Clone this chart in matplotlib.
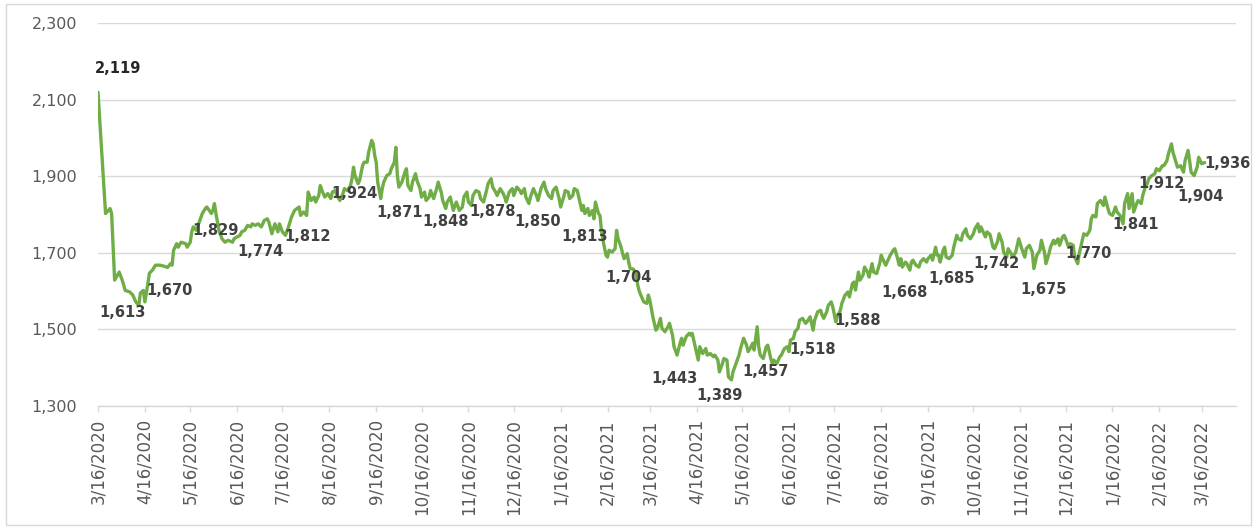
import matplotlib
matplotlib.use('Agg')
import matplotlib.pyplot as plt
import matplotlib.dates as mdates
from matplotlib.ticker import FuncFormatter
from matplotlib.patches import Rectangle
import datetime as dt

# ---------------- data ----------------
start_date = dt.date(2020, 3, 16)

day_offsets = [
    0, 5, 8, 9, 11, 14, 16, 18, 21, 23, 25, 27, 28, 30, 31, 33, 34, 36, 38, 41,
    44, 46, 48, 49, 50, 52, 53, 55, 58, 59, 61, 62, 63, 65, 69, 71, 72, 75, 76, 77,
    78, 80, 82, 84, 86, 89, 90, 92, 94, 95, 97, 99, 101, 102, 104, 106, 108, 110, 112, 113,
    115, 117, 119, 120, 122, 124, 126, 128, 130, 133, 134, 136, 138, 139, 141, 143, 144, 146, 147, 149,
    150, 152, 154, 155, 157, 158, 160, 162, 163, 165, 167, 168, 169, 170, 172, 173, 175, 176, 178, 179,
    181, 182, 183, 184, 185, 187, 188, 189, 191, 193, 194, 196, 197, 198, 199, 201, 203, 204, 205, 207,
    208, 210, 211, 213, 214, 216, 217, 219, 220, 222, 224, 225, 227, 228, 230, 231, 233, 235, 237, 239,
    241, 242, 244, 245, 247, 248, 250, 252, 253, 255, 257, 258, 260, 261, 263, 264, 266, 268, 269, 270,
    272, 274, 275, 277, 279, 280, 282, 283, 285, 286, 288, 290, 291, 293, 295, 296, 298, 300, 301, 303,
    305, 306, 308, 309, 311, 312, 314, 315, 317, 318, 320, 321, 322, 324, 325, 327, 328, 329, 331, 332,
    333, 334, 336, 337, 338, 340, 342, 343, 344, 346, 347, 348, 350, 351, 352, 354, 356, 357, 358, 359,
    361, 363, 364, 365, 367, 369, 370, 372, 373, 375, 377, 378, 380, 381, 383, 385, 386, 387, 389, 391,
    392, 393, 395, 397, 398, 400, 402, 403, 405, 407, 408, 410, 411, 413, 414, 416, 417, 419, 420, 422,
    424, 425, 427, 429, 430, 432, 433, 434, 436, 437, 438, 440, 442, 443, 445, 446, 447, 449, 451, 452,
    454, 456, 457, 458, 460, 461, 463, 464, 466, 468, 469, 471, 472, 473, 474, 476, 478, 479, 480, 482,
    483, 485, 486, 488, 489, 491, 492, 494, 496, 497, 499, 500, 501, 503, 504, 506, 507, 509, 510, 512,
    513, 515, 516, 517, 518, 520, 521, 523, 524, 526, 527, 528, 530, 531, 532, 534, 535, 537, 538, 539,
    541, 543, 544, 546, 548, 549, 551, 552, 554, 555, 556, 557, 559, 560, 561, 563, 565, 566, 568, 569,
    571, 572, 574, 575, 577, 579, 580, 582, 583, 584, 586, 587, 588, 590, 592, 593, 595, 596, 598, 599,
    601, 602, 604, 605, 607, 608, 609, 611, 613, 614, 616, 618, 619, 621, 623, 624, 626, 627, 629, 630,
    632, 633, 635, 636, 638, 639, 640, 642, 643, 645, 646, 648, 649, 651, 652, 654, 656, 657, 658, 660,
    661, 663, 665, 666, 668, 669, 671, 673, 674, 676, 678, 679, 681, 682, 684, 685, 687, 688, 690, 691,
    693, 694, 695, 697, 699, 700, 702, 704, 705, 707, 708, 710, 711, 713, 714, 716, 718, 719, 721, 722,
    723, 725, 727, 728, 730, 732,
]

index_values = [
    2120, 1803, 1816, 1803, 1629, 1650, 1629, 1602, 1598, 1590, 1572, 1563, 1595, 1602, 1572, 1620, 1647, 1655, 1668, 1668,
    1665, 1662, 1672, 1668, 1707, 1724, 1715, 1728, 1724, 1715, 1728, 1755, 1768, 1759, 1803, 1816, 1820, 1803, 1811, 1829,
    1803, 1759, 1737, 1728, 1733, 1728, 1737, 1742, 1746, 1755, 1759, 1772, 1768, 1776, 1772, 1776, 1768, 1785, 1789, 1781,
    1750, 1776, 1755, 1776, 1755, 1746, 1768, 1794, 1811, 1820, 1798, 1807, 1798, 1859, 1837, 1846, 1833, 1850, 1876, 1855,
    1846, 1855, 1842, 1859, 1863, 1850, 1837, 1855, 1868, 1863, 1876, 1894, 1924, 1902, 1881, 1889, 1928, 1937, 1937, 1963,
    1994, 1985, 1955, 1937, 1885, 1842, 1868, 1885, 1902, 1907, 1920, 1937, 1976, 1902, 1872, 1885, 1911, 1920, 1876, 1863,
    1885, 1907, 1889, 1868, 1846, 1859, 1837, 1846, 1863, 1842, 1868, 1885, 1859, 1837, 1816, 1833, 1846, 1811, 1833, 1811,
    1820, 1846, 1859, 1833, 1824, 1850, 1863, 1859, 1842, 1833, 1863, 1881, 1894, 1872, 1859, 1850, 1868, 1855, 1846, 1833,
    1859, 1868, 1850, 1872, 1863, 1855, 1868, 1846, 1829, 1846, 1868, 1850, 1837, 1868, 1885, 1868, 1850, 1842, 1863, 1872,
    1842, 1820, 1846, 1863, 1859, 1842, 1850, 1868, 1863, 1846, 1811, 1824, 1803, 1816, 1798, 1811, 1789, 1833, 1803, 1798,
    1759, 1733, 1694, 1689, 1707, 1702, 1711, 1759, 1737, 1715, 1698, 1685, 1698, 1676, 1659, 1658, 1645, 1616, 1600, 1590,
    1572, 1568, 1590, 1576, 1533, 1498, 1503, 1529, 1503, 1494, 1507, 1516, 1485, 1455, 1433, 1464, 1477, 1459, 1481, 1490,
    1485, 1490, 1455, 1420, 1455, 1437, 1450, 1433, 1437, 1429, 1433, 1420, 1389, 1411, 1424, 1420, 1376, 1368, 1389, 1411,
    1433, 1450, 1477, 1459, 1442, 1455, 1464, 1446, 1507, 1455, 1433, 1424, 1455, 1459, 1424, 1411, 1420, 1411, 1429, 1433,
    1450, 1455, 1442, 1472, 1477, 1494, 1503, 1524, 1529, 1516, 1520, 1533, 1516, 1498, 1524, 1546, 1550, 1537, 1529, 1546,
    1563, 1572, 1559, 1520, 1533, 1550, 1568, 1589, 1598, 1585, 1620, 1624, 1603, 1650, 1629, 1642, 1663, 1650, 1637, 1672,
    1650, 1646, 1659, 1672, 1694, 1676, 1668, 1685, 1694, 1707, 1711, 1698, 1668, 1685, 1663, 1676, 1672, 1655, 1676, 1681,
    1668, 1663, 1676, 1685, 1676, 1685, 1694, 1681, 1715, 1694, 1694, 1676, 1707, 1715, 1689, 1685, 1694, 1715, 1746, 1737,
    1733, 1750, 1763, 1746, 1737, 1750, 1763, 1776, 1755, 1768, 1750, 1742, 1755, 1748, 1715, 1711, 1730, 1750, 1728, 1702,
    1689, 1711, 1698, 1689, 1702, 1720, 1737, 1711, 1689, 1711, 1720, 1702, 1659, 1694, 1707, 1733, 1702, 1672, 1698, 1715,
    1733, 1724, 1737, 1720, 1742, 1746, 1737, 1715, 1724, 1720, 1689, 1672, 1698, 1733, 1750, 1746, 1759, 1789, 1798, 1794,
    1829, 1837, 1824, 1846, 1816, 1803, 1798, 1820, 1807, 1798, 1776, 1829, 1855, 1816, 1855, 1807, 1829, 1837, 1829, 1850,
    1876, 1881, 1894, 1902, 1907, 1920, 1915, 1928, 1928, 1941, 1959, 1985, 1963, 1937, 1924, 1928, 1911, 1941, 1968, 1941,
    1911, 1902, 1924, 1950, 1933, 1936,
]

label_texts = ['2,119', '1,613', '1,670', '1,829', '1,774', '1,812', '1,924', '1,871', '1,848',
               '1,878', '1,850', '1,813', '1,704', '1,443', '1,389', '1,457', '1,518', '1,588',
               '1,668', '1,685', '1,742', '1,675', '1,770', '1,841', '1,912', '1,904', '1,936']
label_values = [2119, 1613, 1670, 1829, 1774, 1812, 1924, 1871, 1848,
                1878, 1850, 1813, 1704, 1443, 1389, 1457, 1518, 1588,
                1668, 1685, 1742, 1675, 1770, 1841, 1912, 1904, 1936]
label_dates = ['2020-03-16', '2020-03-16', '2020-04-16', '2020-05-16', '2020-06-16', '2020-07-16',
               '2020-08-16', '2020-09-16', '2020-10-16', '2020-11-16', '2020-12-16', '2021-01-16',
               '2021-02-16', '2021-03-16', '2021-04-16', '2021-05-16', '2021-06-16', '2021-07-16',
               '2021-08-16', '2021-09-16', '2021-10-16', '2021-11-16', '2021-12-16', '2022-01-16',
               '2022-02-02', '2022-02-28', '2022-03-18']

y_ticks = [1300, 1500, 1700, 1900, 2100, 2300]

# ------------- layout (pixels offsets for labels) -------------
label_dx_px = [-3, 1, 1, 2, 0, 2, 2, 0, 1, 1, 1, 1, -2, 1, 0, 0, 0, 0, 0, 0, 0, 0, 0, 0, 0, 0, 0]
label_dy_px = [24, -26, -26, -27, -27, -26, -26, -25, -25, -27, -26, -27, -26, -27, -24, -26, -27,
               -25, -27, -20, -27, -27, -27, -26, -12, -22, -1]

W, H = 1257, 529
fig = plt.figure(figsize=(W / 100, H / 100), dpi=100)
fig.patch.set_facecolor('white')
left, right, top, bottom = 98, 1236, 23.3, 406
ax = fig.add_axes([left / W, (H - bottom) / H, (right - left) / W, (bottom - top) / H])

dates = [start_date + dt.timedelta(days=d) for d in day_offsets]
ax.plot(dates, index_values, color='#70AD47', lw=2.4, solid_joinstyle='round',
        solid_capstyle='round', zorder=3)

ax.set_ylim(y_ticks[0], y_ticks[-1])
ax.set_yticks(y_ticks)
ax.yaxis.set_major_formatter(FuncFormatter(lambda v, p: f'{int(v):,}'))
ax.set_xlim(mdates.date2num(start_date), mdates.date2num(start_date) + 752.7)

ax.xaxis.set_major_locator(mdates.MonthLocator(bymonthday=16))
ax.xaxis.set_major_formatter(FuncFormatter(
    lambda v, p: (lambda d: f'{d.month}/{d.day}/{d.year}')(mdates.num2date(v))))

ax.yaxis.grid(True, color='#D9D9D9', lw=1.0)
ax.set_axisbelow(True)
for s in ['left', 'right', 'top']:
    ax.spines[s].set_visible(False)
ax.spines['bottom'].set_color('#D9D9D9')
ax.spines['bottom'].set_linewidth(1.0)

ax.tick_params(axis='y', length=0, pad=15, labelsize=11.5, labelcolor='#595959')
ax.tick_params(axis='x', length=4.5, width=1, color='#D9D9D9', pad=5, labelsize=12,
               labelcolor='#595959', labelrotation=90)
for lbl in ax.get_xticklabels():
    lbl.set_ha('center')
    lbl.set_va('top')

for i, (txt, val, d) in enumerate(zip(label_texts, label_values, label_dates)):
    color = '#262626' if i == 0 else '#404040'
    ax.annotate(txt, xy=(mdates.datestr2num(d), val),
                xytext=(label_dx_px[i], label_dy_px[i]), textcoords='offset pixels',
                ha='left', va='center', fontsize=10.5, fontweight='bold',
                color=color, zorder=4, annotation_clip=False)

fig.patches.append(Rectangle((6 / W, 4 / H), (1251 - 6) / W, (525 - 4) / H,
                             transform=fig.transFigure, fill=False,
                             edgecolor='#D9D9D9', lw=1.0))

fig.savefig('out.png', dpi=100)
